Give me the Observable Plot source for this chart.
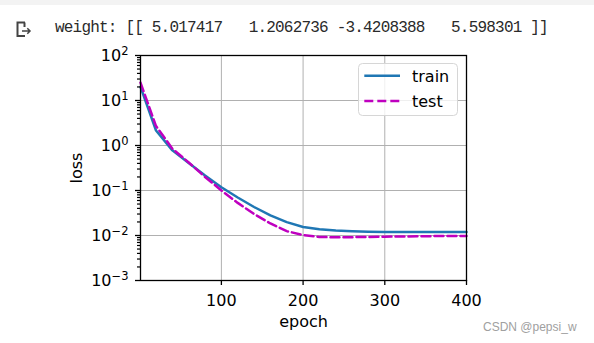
<!DOCTYPE html>
<html><head><meta charset="utf-8">
<script src="https://cdn.jsdelivr.net/npm/d3@7"></script>
<script src="https://cdn.jsdelivr.net/npm/@observablehq/plot@0.6"></script>
<style>
body{margin:0;width:594px;height:343px;background:#fff;position:relative;overflow:hidden;font-family:"DejaVu Sans",sans-serif;}
#strip{position:absolute;left:0;top:0;width:594px;height:5px;background:#f3f3f3;}
#icon{position:absolute;left:0;top:0;}
#out{position:absolute;left:55px;top:20px;font-family:"Liberation Mono",monospace;font-size:16px;line-height:16px;letter-spacing:-0.8px;white-space:pre;color:#2a2a2a;}
#chart{position:absolute;left:0;top:40px;}
#legend{position:absolute;left:358px;top:63px;}
#wm{position:absolute;left:483px;top:321px;font-family:"Liberation Sans",sans-serif;font-size:12px;line-height:12px;color:#a0a0a0;white-space:pre;}
</style></head><body>
<div id="strip"></div>
<svg id="icon" width="40" height="40"><path d="M25 22.5 H17.5 V36 H25 M24.5 22.5 V27" stroke="#444" stroke-width="2" fill="none"/><path d="M22 31 H30 M27.3 28.3 L30 31 L27.3 33.7" stroke="#444" stroke-width="1.5" fill="none"/></svg>
<div id="out"></div>
<div id="chart"></div>
<div id="legend"></div>
<div id="wm"></div>
<script>
const outputText = "weight: [[ 5.017417   1.2062736 -3.4208388   5.598301 ]]";
const watermark = "CSDN @pepsi_w";
const seriesNames = ["train", "test"];
const seriesColors = ["#1f77b4", "#bf00bf"];
const epochs = [1, 20, 40, 60, 80, 100, 120, 140, 160, 180, 200, 220, 240, 260, 280, 300, 320, 340, 360, 380, 400];
const trainLoss = [20, 2.15, 0.78, 0.41, 0.215, 0.118, 0.070, 0.043, 0.028, 0.0198, 0.0155, 0.0138, 0.0129, 0.0124, 0.0121, 0.0120, 0.0120, 0.0120, 0.0120, 0.0120, 0.0120];
const testLoss = [25, 2.7, 0.85, 0.42, 0.2, 0.1, 0.053, 0.030, 0.0185, 0.0125, 0.0102, 0.0093, 0.0091, 0.0092, 0.0093, 0.0094, 0.0095, 0.0096, 0.0097, 0.0098, 0.0098];
const xTicks = [100, 200, 300, 400];
const xGrid = [100, 200, 300];
const yTicks = [1e-3, 1e-2, 1e-1, 1, 10, 100];

document.getElementById("out").textContent = outputText;
document.getElementById("wm").textContent = watermark;

const expStr = d => String(Math.round(Math.log10(d))).replace("-", "\u2212");
const minorTicks = yTicks.slice(0, -1).flatMap(t => d3.range(2, 10).map(k => k * t));

const train = epochs.map((e, i) => ({epoch: e, loss: trainLoss[i]}));
const test = epochs.map((e, i) => ({epoch: e, loss: testLoss[i]}));

const chart = Plot.plot({
  width: 594, height: 303,
  marginLeft: 140, marginRight: 128, marginTop: 15, marginBottom: 63,
  style: {fontFamily: "DejaVu Sans", fontSize: "16px", color: "black", background: "transparent"},
  x: {domain: [1, 400]},
  y: {type: "log", domain: [1e-3, 1e2]},
  marks: [
    Plot.gridX(xGrid, {stroke: "#b0b0b0", strokeOpacity: 1, strokeWidth: 1}),
    Plot.gridY(yTicks, {stroke: "#b0b0b0", strokeOpacity: 1, strokeWidth: 1}),
    Plot.line(train, {x: "epoch", y: "loss", stroke: seriesColors[0], strokeWidth: 2.5}),
    Plot.line(test, {x: "epoch", y: "loss", stroke: seriesColors[1], strokeWidth: 2.5, strokeDasharray: "9,4"}),
    Plot.axisY(minorTicks, {tickSize: 3, text: null, label: null, strokeWidth: 1.2}),
    Plot.axisY(yTicks, {tickSize: 5, tickPadding: 7, tickFormat: d => "10" + expStr(d), label: "loss", labelAnchor: "center", labelArrow: "none", labelOffset: 70, strokeWidth: 1.3}),
    Plot.axisX(xTicks, {tickSize: 5, tickPadding: 9, tickFormat: d => String(d), label: "epoch", labelAnchor: "center", labelArrow: "none", labelOffset: 46, strokeWidth: 1.3}),
    Plot.frame({stroke: "black", strokeWidth: 1.3})
  ]
});
document.getElementById("chart").appendChild(chart);

// render the exponent of y tick labels as a superscript
d3.select(chart).selectAll('g[aria-label="y-axis tick label"] text').each(function () {
  const s = this.textContent;
  if (!s || s.length <= 2 || !s.startsWith("10")) return;
  const t = d3.select(this);
  t.text("10");
  t.append("tspan").attr("font-size", "11.5px").attr("dy", "-0.5em").text(s.slice(2));
});

// legend
const lg = d3.select("#legend").append("svg").attr("width", 101).attr("height", 54)
  .style("font-family", "DejaVu Sans").style("font-size", "16px");
lg.append("rect").attr("x", 0.5).attr("y", 0.5).attr("width", 99).attr("height", 52).attr("rx", 4)
  .attr("fill", "rgba(255,255,255,0.8)").attr("stroke", "#d6d6d6");
seriesNames.forEach((name, i) => {
  const y = 12.7 + i * 25.3;
  lg.append("line").attr("x1", 6.3).attr("x2", 42).attr("y1", y).attr("y2", y)
    .attr("stroke", seriesColors[i]).attr("stroke-width", 2.5)
    .attr("stroke-dasharray", i === 1 ? "9,4" : null);
  lg.append("text").attr("x", 54).attr("y", y + 6).text(name);
});
</script>
</body></html>
